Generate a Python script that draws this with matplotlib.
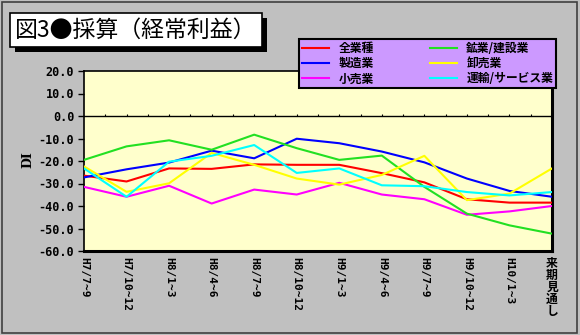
import numpy as np
import matplotlib
matplotlib.use("Agg")
import matplotlib.pyplot as plt
from matplotlib.patches import Rectangle

plt.rcParams["font.family"] = ["Noto Sans CJK JP", "DejaVu Sans"]

# periods (last one is the outlook)
periods = ["H7/7~9", "H7/10~12", "H8/1~3", "H8/4~6", "H8/7~9", "H8/10~12",
           "H9/1~3", "H9/4~6", "H9/7~9", "H9/10~12", "H10/1~3", "来期見通し"]

# DI values
all_ind = [-26.5, -29.1, -23.3, -23.5, -21.5, -21.7, -21.7, -25.4, -29.5, -37.0, -38.5, -38.5]
manuf = [-27.3, -23.7, -20.7, -15.4, -18.8, -10.1, -12.1, -15.8, -20.6, -27.8, -33.3, -35.9]
retail = [-31.5, -35.9, -31.0, -38.9, -32.7, -34.9, -29.7, -34.9, -37.0, -43.9, -42.4, -40.0]
mining_constr = [-19.5, -13.5, -10.8, -15.0, -8.3, -14.3, -19.5, -17.6, -31.5, -43.4, -48.6, -52.3]
wholesale = [-22.4, -33.7, -29.9, -16.4, -21.7, -27.8, -30.5, -26.2, -17.7, -37.4, -34.5, -23.3]
transport_serv = [-23.3, -35.9, -20.3, -17.7, -12.9, -25.3, -23.3, -30.8, -31.2, -33.8, -35.3, -33.8]

series = [
    ("全業種", all_ind, "#ff0000"),
    ("製造業", manuf, "#0000ff"),
    ("小売業", retail, "#ff00ff"),
    ("鉱業/建設業", mining_constr, "#22e022"),
    ("卸売業", wholesale, "#ffff00"),
    ("運輸/サービス業", transport_serv, "#00ffff"),
]

fig = plt.figure(figsize=(5.8, 3.35), dpi=100, facecolor="#c0c0c0")
ax = fig.add_axes([84 / 580, 1 - 251 / 335, 468 / 580, 180 / 335])
ax.set_facecolor("#ffffcc")

x = np.arange(len(periods))
handles = []
for name, vals, col in series:
    h, = ax.plot(x, vals, color=col, lw=1.5, label=name, zorder=3)
    handles.append(h)

ax.axhline(0, color="black", lw=1.0, zorder=2)
# small tick marks on the zero line
ax.vlines(np.arange(0.5, len(periods) - 1, 0.5), 0, 0.9, color="black", lw=0.8, zorder=2)

ax.set_xlim(0, len(periods) - 1)
ax.set_ylim(-60, 20)
ax.set_yticks(np.arange(-60, 21, 10))
ax.set_yticklabels([f"{v:.1f}" for v in np.arange(-60, 21, 10)],
                   family="DejaVu Sans Mono", fontweight="bold", fontsize=8.5)
ax.tick_params(axis="y", direction="out", length=4, width=1, pad=3)

labels = [p if p != "来期見通し" else "\n".join(p) for p in periods]
ax.set_xticks(x)
ax.set_xticklabels([])
ax.tick_params(axis="x", length=0)
for xi, lab in zip(x, labels):
    if "\n" in lab:
        ax.text(xi, -62.5, lab, rotation=0, ha="center", va="top", fontsize=8.5,
                fontweight="bold", linespacing=0.9, clip_on=False)
    else:
        ax.text(xi, -62.5, lab, rotation=-90, ha="center", va="top", fontsize=8,
                fontweight="bold", family="DejaVu Sans Mono", clip_on=False)

for side in ["left", "top"]:
    ax.spines[side].set_linewidth(1.2)
for side in ["right", "bottom"]:
    ax.spines[side].set_linewidth(2.2)

ax.text(28 / 580, 1 - 160 / 335, "DI", transform=fig.transFigure, rotation=90,
        ha="center", va="center", family="DejaVu Serif", fontweight="bold", fontsize=9)

# title box with shadow
fig.patches.append(Rectangle((15 / 580, 1 - 52 / 335), 252 / 580, 34 / 335,
                             transform=fig.transFigure, facecolor="black", edgecolor="none"))
fig.patches.append(Rectangle((10 / 580, 1 - 47 / 335), 252 / 580, 34 / 335,
                             transform=fig.transFigure, facecolor="white",
                             edgecolor="black", lw=1.2))
fig.text(15 / 580, 1 - 30 / 335, "図3●採算（経常利益）", ha="left", va="center", fontsize=16.5)

# legend
leg = fig.legend(handles=handles, ncol=2, loc="center",
                 bbox_to_anchor=(293 / 580, 1 - 89 / 335, 269 / 580, 51 / 335),
                 bbox_transform=fig.transFigure, mode="expand",
                 prop={"weight": "bold", "size": 8.5}, handlelength=2.3,
                 labelspacing=0.2, borderpad=0.25, columnspacing=1.0,
                 fancybox=False, framealpha=1)
leg.get_frame().set_facecolor("#cc99ff")
leg.get_frame().set_edgecolor("black")
leg.get_frame().set_linewidth(1.5)

# outer frame
fig.patches.append(Rectangle((0.003, 0.006), 0.992, 0.988, transform=fig.transFigure,
                             facecolor="none", edgecolor="#404040", lw=1.2))

fig.savefig("out.png", dpi=100, facecolor=fig.get_facecolor())
